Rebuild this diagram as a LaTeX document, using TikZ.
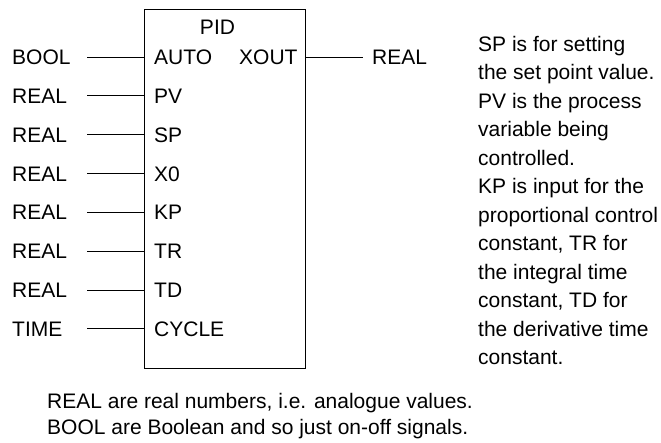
\documentclass[tikz,border=0pt]{standalone}
\usepackage{fontspec}
\setmainfont{Liberation Sans}
\begin{document}
\begin{tikzpicture}[x=1pt,y=-1pt,
  lbl/.style={inner sep=0pt,anchor=base west,font=\fontsize{21}{24}\selectfont},
  wire/.style={line width=1pt},
  fb/.style={draw,line width=1.1pt,inner sep=0pt,minimum width=161pt,minimum height=359pt,anchor=north west}]
\useasboundingbox (0,0) rectangle (661,442);
\node[fb] (box) at (144,9) {};
\node[lbl,anchor=base] (pid) at (217.5,34.5) {PID};
\node[lbl] (tout) at (239,64.5) {XOUT};
\node[lbl] (outt) at (372,64.5) {REAL};
\coordinate (oa) at (305,57);
\coordinate (ob) at (363,57);
\draw[wire] (oa) -- (ob);
\foreach \t/\p/\i in {BOOL/AUTO/0,REAL/PV/1,REAL/SP/2,REAL/X0/3,REAL/KP/4,REAL/TR/5,REAL/TD/6,TIME/CYCLE/7}{
  \pgfmathsetmacro{\yy}{57+38.85*\i}
  \node[lbl] (t\i) at (12,\yy+7.5) {\t};
  \node[lbl] (p\i) at (154,\yy+7.5) {\p};
  \coordinate (ws\i) at (87,\yy);
  \coordinate (we\i) at (144,\yy);
  \draw[wire] (ws\i) -- (we\i);
}
\node[inner sep=0pt,anchor=north west,align=left,font=\fontsize{21}{28.5}\selectfont] (note) at (478,36)
 {SP is for setting\\the set point value.\\PV is the process\\variable being\\controlled.\\KP is input for the\\proportional control\\constant, TR for\\the integral time\\constant, TD for\\the derivative time\\constant.};
\node[inner sep=0pt,anchor=north west,align=left,font=\fontsize{21}{26}\selectfont] (foot) at (47,393)
 {REAL are real numbers, i.e. analogue values.\\BOOL are Boolean and so just on-off signals.};
\end{tikzpicture}
\end{document}
